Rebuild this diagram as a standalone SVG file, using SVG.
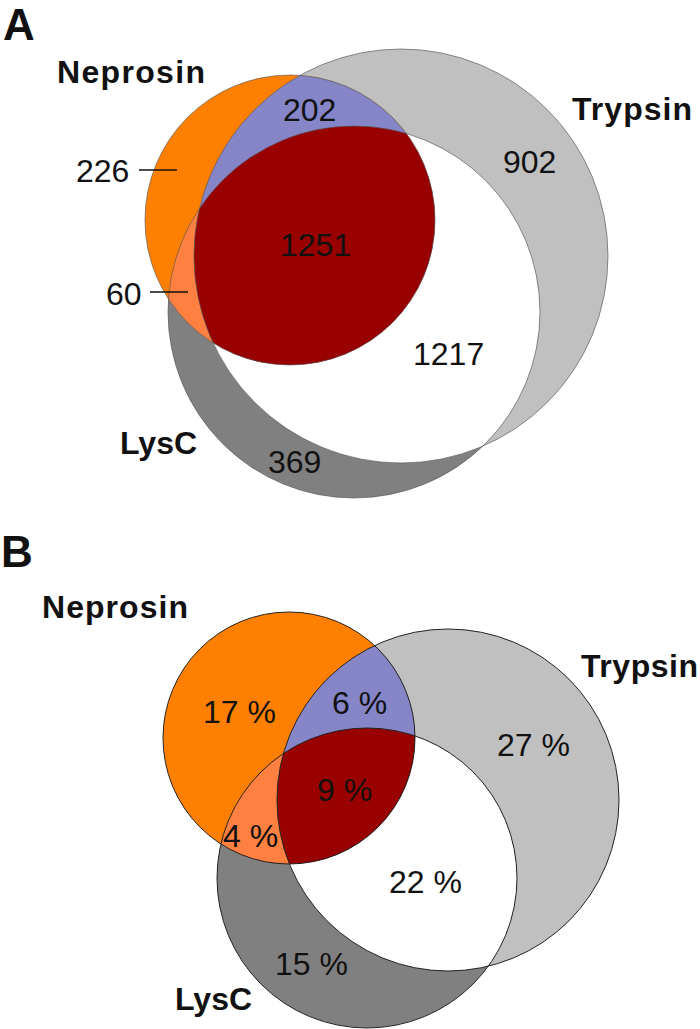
<svg xmlns="http://www.w3.org/2000/svg" width="700" height="1029" viewBox="0 0 700 1029">
<style>
.num{font-family:"Liberation Sans",Arial,sans-serif;font-size:32px;fill:#111}
.name{font-family:"Liberation Sans",Arial,sans-serif;font-size:32px;font-weight:bold;fill:#111}
.panel{font-family:"Liberation Sans",Arial,sans-serif;font-size:44px;font-weight:bold;fill:#111}
.olA{fill:none;stroke:#555;stroke-width:0.8;stroke-opacity:0.8}
.olB{fill:none;stroke:#222;stroke-width:1}
.lead{stroke:#111;stroke-width:1.6}
</style>
<defs>
<clipPath id="cTA"><circle cx="401" cy="256" r="207"/></clipPath>
<clipPath id="cLA"><circle cx="354" cy="312" r="186"/></clipPath>
<clipPath id="cTB"><circle cx="448" cy="800" r="171"/></clipPath>
<clipPath id="cLB"><circle cx="367" cy="878" r="150"/></clipPath>
</defs>
<rect width="700" height="1029" fill="#fff"/>

<!-- Panel A -->
<text class="panel" x="3" y="40">A</text>
<g id="A-trypsin"><circle cx="401" cy="256" r="207" fill="#c0c0c0"/></g>
<g id="A-lysc"><circle cx="354" cy="312" r="186" fill="#808080"/></g>
<g id="A-trypsin-lysc"><circle cx="354" cy="312" r="186" fill="#ffffff" clip-path="url(#cTA)"/></g>
<g id="A-neprosin"><circle cx="290" cy="220" r="145" fill="#ff8000"/></g>
<g id="A-neprosin-lysc"><circle cx="290" cy="220" r="145" fill="#ff8040" clip-path="url(#cLA)"/></g>
<g id="A-neprosin-trypsin"><circle cx="290" cy="220" r="145" fill="#8585c8" clip-path="url(#cTA)"/></g>
<g id="A-all" clip-path="url(#cTA)"><circle cx="290" cy="220" r="145" fill="#990000" clip-path="url(#cLA)"/></g>
<g id="A-outlines">
<circle class="olA" cx="401" cy="256" r="207"/>
<circle class="olA" cx="354" cy="312" r="186"/>
<circle class="olA" cx="290" cy="220" r="145"/>
</g>
<g id="A-connectors">
<line class="lead" x1="139" y1="170" x2="177" y2="170"/>
<line class="lead" x1="150" y1="292" x2="188" y2="292"/>
</g>
<g id="A-labels">
<text class="name" x="57" y="83" textLength="148" lengthAdjust="spacing">Neprosin</text>
<text class="name" x="572" y="120" textLength="120" lengthAdjust="spacing">Trypsin</text>
<text class="name" x="120" y="454">LysC</text>
<text class="num" x="283" y="121">202</text>
<text class="num" x="76" y="182">226</text>
<text class="num" x="280" y="256">1251</text>
<text class="num" x="503" y="173">902</text>
<text class="num" x="106" y="305">60</text>
<text class="num" x="413" y="365">1217</text>
<text class="num" x="268" y="473">369</text>
</g>

<!-- Panel B -->
<text class="panel" x="1" y="567">B</text>
<g id="B-trypsin"><circle cx="448" cy="800" r="171" fill="#c0c0c0"/></g>
<g id="B-lysc"><circle cx="367" cy="878" r="150" fill="#808080"/></g>
<g id="B-trypsin-lysc"><circle cx="367" cy="878" r="150" fill="#ffffff" clip-path="url(#cTB)"/></g>
<g id="B-neprosin"><circle cx="289" cy="738" r="126" fill="#ff8000"/></g>
<g id="B-neprosin-lysc"><circle cx="289" cy="738" r="126" fill="#ff8040" clip-path="url(#cLB)"/></g>
<g id="B-neprosin-trypsin"><circle cx="289" cy="738" r="126" fill="#8585c8" clip-path="url(#cTB)"/></g>
<g id="B-all" clip-path="url(#cTB)"><circle cx="289" cy="738" r="126" fill="#990000" clip-path="url(#cLB)"/></g>
<g id="B-outlines">
<circle class="olB" cx="448" cy="800" r="171"/>
<circle class="olB" cx="367" cy="878" r="150"/>
<circle class="olB" cx="289" cy="738" r="126"/>
</g>
<g id="B-labels">
<text class="name" x="42" y="618" textLength="146" lengthAdjust="spacing">Neprosin</text>
<text class="name" x="581" y="677" textLength="117" lengthAdjust="spacing">Trypsin</text>
<text class="name" x="175" y="1010">LysC</text>
<text class="num" x="203" y="723">17 %</text>
<text class="num" x="332" y="714">6 %</text>
<text class="num" x="497" y="756">27 %</text>
<text class="num" x="317" y="801">9 %</text>
<text class="num" x="223" y="847">4 %</text>
<text class="num" x="389" y="893">22 %</text>
<text class="num" x="275" y="975">15 %</text>
</g>
</svg>
